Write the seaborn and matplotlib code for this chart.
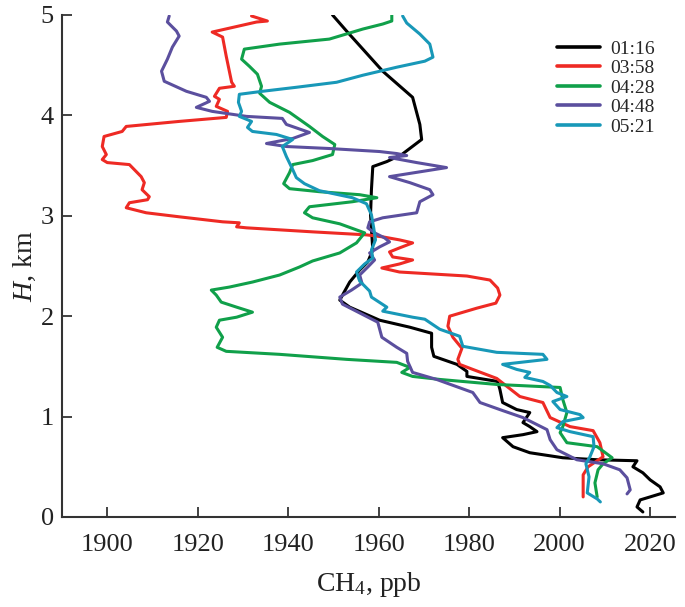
import pandas as pd
import matplotlib.pyplot as plt
import seaborn as sns

# CH4 profiles (ppb) vs height (km)
times = ["01:16", "03:58", "04:28", "04:48", "05:21"]
colors = ["#000000", "#ee2a24", "#10a04a", "#5b4f9e", "#1898b8"]

ch4_0116 = [1949.8, 1952.9, 1956.5, 1960.9, 1967.5, 1969.1, 1969.5, 1965.1, 1961.8, 1958.7,
            1958.4, 1958.2, 1958.7, 1957.6, 1955.8, 1953.6, 1952.0, 1951.4, 1953.6, 1960.2,
            1966.9, 1971.7, 1971.7, 1972.2, 1977.3, 1979.5, 1979.5, 1986.3, 1986.8, 1987.4,
            1990.5, 1993.4, 1991.9, 1993.4, 1995.0, 1991.9, 1987.4, 1989.7, 1993.4, 2000.7,
            2008.3, 2017.1, 2016.2, 2018.4, 2020.0, 2022.2, 2022.9, 2020.0, 2017.8, 2017.1, 2018.4]
h_0116 = [5.00, 4.84, 4.66, 4.44, 4.18, 3.91, 3.76, 3.61, 3.54, 3.49,
          3.26, 3.01, 2.66, 2.54, 2.46, 2.34, 2.21, 2.16, 2.09, 1.96,
          1.89, 1.83, 1.69, 1.60, 1.52, 1.45, 1.40, 1.35, 1.27, 1.14,
          1.07, 1.04, 0.94, 0.90, 0.85, 0.82, 0.79, 0.70, 0.64, 0.59,
          0.57, 0.56, 0.50, 0.44, 0.37, 0.30, 0.24, 0.20, 0.17, 0.10, 0.05]

ch4_0358 = [1931.9, 1935.4, 1933.0, 1923.2, 1925.5, 1926.3, 1927.5, 1928.1, 1924.8, 1923.7,
            1924.8, 1924.1, 1926.6, 1926.3, 1915.9, 1904.2, 1903.3, 1899.3, 1898.9, 1899.8,
            1898.9, 1900.0, 1904.9, 1907.5, 1908.2, 1907.7, 1909.3, 1908.9, 1904.9, 1904.2,
            1908.6, 1915.9, 1925.5, 1929.2, 1928.6, 1930.8, 1945.4, 1957.3, 1960.9, 1964.6,
            1967.5, 1964.6, 1962.4, 1963.1, 1967.5, 1964.6, 1960.7, 1964.6, 1979.5, 1984.6,
            1986.3, 1986.8, 1985.9, 1981.7, 1975.7, 1975.3, 1976.4, 1978.4, 1977.5, 1977.9,
            1980.8, 1986.1, 1991.2, 1996.3, 1997.9, 2002.3, 2007.4, 2008.9, 2009.6, 2006.3,
            2005.2, 2005.2]
h_0358 = [4.99, 4.94, 4.93, 4.83, 4.78, 4.59, 4.33, 4.29, 4.27, 4.19,
          4.16, 4.09, 4.04, 3.98, 3.94, 3.89, 3.84, 3.79, 3.69, 3.61,
          3.56, 3.53, 3.51, 3.39, 3.33, 3.26, 3.19, 3.16, 3.13, 3.08,
          3.03, 2.99, 2.94, 2.93, 2.89, 2.88, 2.84, 2.81, 2.79, 2.76,
          2.73, 2.68, 2.64, 2.59, 2.56, 2.52, 2.48, 2.44, 2.40, 2.36,
          2.28, 2.21, 2.13, 2.08, 2.00, 1.90, 1.79, 1.68, 1.57, 1.52,
          1.47, 1.38, 1.20, 1.14, 0.99, 0.90, 0.86, 0.74, 0.60, 0.50,
          0.42, 0.20]

ch4_0428 = [1962.9, 1962.9, 1960.9, 1956.5, 1949.1, 1938.1, 1930.3, 1929.7, 1931.4, 1933.2,
            1934.1, 1933.7, 1935.9, 1940.3, 1944.7, 1947.6, 1950.3, 1949.8, 1945.4, 1941.0,
            1940.3, 1939.0, 1940.3, 1946.9, 1955.8, 1959.6, 1954.2, 1944.7, 1943.6, 1945.4,
            1951.4, 1956.9, 1955.1, 1951.4, 1945.4, 1942.5, 1938.1, 1932.1, 1927.0, 1923.0,
            1924.1, 1925.2, 1928.6, 1932.1, 1928.6, 1924.8, 1924.1, 1925.5, 1924.3, 1926.3,
            1938.1, 1952.9, 1964.0, 1966.9, 1965.1, 1967.5, 1973.5, 1986.1, 2000.1, 2000.7,
            2001.6, 2000.7, 2000.1, 2001.6, 2008.3, 2011.6, 2009.6, 2008.5, 2007.8, 2008.3]
h_0428 = [5.00, 4.94, 4.91, 4.86, 4.76, 4.71, 4.66, 4.56, 4.49, 4.41,
          4.29, 4.22, 4.13, 4.03, 3.89, 3.79, 3.71, 3.61, 3.55, 3.51,
          3.43, 3.32, 3.27, 3.24, 3.21, 3.18, 3.14, 3.09, 3.03, 2.98,
          2.92, 2.83, 2.73, 2.63, 2.55, 2.49, 2.41, 2.34, 2.29, 2.26,
          2.21, 2.14, 2.09, 2.04, 1.99, 1.96, 1.89, 1.79, 1.69, 1.65,
          1.62, 1.57, 1.54, 1.49, 1.44, 1.40, 1.37, 1.32, 1.29, 1.17,
          1.04, 0.90, 0.84, 0.74, 0.70, 0.59, 0.53, 0.47, 0.34, 0.20]

ch4_0448 = [1913.7, 1913.3, 1915.3, 1915.9, 1914.4, 1913.3, 1912.0, 1912.6, 1917.5, 1921.9,
            1922.6, 1919.7, 1923.2, 1930.8, 1938.7, 1939.6, 1944.7, 1941.0, 1935.2, 1939.6,
            1949.1, 1960.2, 1964.0, 1966.2, 1962.4, 1968.4, 1975.0, 1962.4, 1966.9, 1971.3,
            1972.0, 1969.1, 1968.4, 1960.9, 1958.0, 1957.6, 1959.1, 1961.3, 1962.4, 1960.2,
            1958.0, 1959.1, 1957.6, 1955.8, 1956.3, 1954.0, 1951.4, 1952.0, 1959.8, 1960.7,
            1964.0, 1966.2, 1966.4, 1967.5, 1972.8, 1980.8, 1982.4, 1987.4, 1991.9, 1997.2,
            1997.9, 1999.4, 2003.8, 2009.6, 2013.3, 2014.9, 2015.6, 2014.9]
h_0448 = [4.99, 4.93, 4.84, 4.79, 4.68, 4.56, 4.44, 4.34, 4.24, 4.18,
          4.14, 4.08, 4.04, 3.99, 3.97, 3.91, 3.83, 3.77, 3.72, 3.69,
          3.67, 3.64, 3.62, 3.60, 3.58, 3.53, 3.48, 3.39, 3.33, 3.26,
          3.21, 3.14, 3.03, 2.98, 2.94, 2.88, 2.83, 2.78, 2.74, 2.69,
          2.63, 2.56, 2.49, 2.41, 2.33, 2.26, 2.19, 2.12, 1.94, 1.79,
          1.69, 1.63, 1.55, 1.44, 1.37, 1.24, 1.14, 1.06, 0.99, 0.87,
          0.77, 0.67, 0.57, 0.53, 0.47, 0.39, 0.27, 0.23]

ch4_0521 = [1965.3, 1966.2, 1969.1, 1971.3, 1972.0, 1970.2, 1964.0, 1956.5, 1950.7, 1941.8,
            1934.3, 1929.2, 1929.0, 1929.7, 1929.2, 1931.9, 1931.0, 1932.1, 1937.4, 1941.0,
            1938.7, 1939.6, 1941.0, 1941.8, 1943.6, 1946.9, 1954.2, 1957.3, 1958.4, 1958.9,
            1959.3, 1958.4, 1958.7, 1956.9, 1955.1, 1955.8, 1958.0, 1958.4, 1961.8, 1960.9,
            1967.5, 1970.2, 1973.5, 1977.9, 1978.6, 1986.1, 1996.3, 1997.2, 1987.4, 1990.5,
            1993.4, 1992.3, 1996.3, 1997.9, 1999.4, 2001.6, 1998.5, 2000.1, 2004.5, 2005.2,
            2000.7, 1999.4, 2002.3, 2007.4, 2007.6, 2006.7, 2005.8, 2006.5, 2006.1, 2008.3, 2009.0]
h_0521 = [4.99, 4.92, 4.81, 4.71, 4.58, 4.54, 4.48, 4.40, 4.33, 4.28,
          4.24, 4.21, 4.13, 4.04, 3.99, 3.94, 3.88, 3.84, 3.81, 3.76,
          3.69, 3.59, 3.46, 3.38, 3.32, 3.25, 3.18, 3.12, 3.01, 2.88,
          2.76, 2.66, 2.58, 2.52, 2.44, 2.35, 2.25, 2.19, 2.09, 2.05,
          1.99, 1.97, 1.87, 1.80, 1.70, 1.64, 1.62, 1.57, 1.52, 1.47,
          1.44, 1.39, 1.35, 1.31, 1.24, 1.20, 1.15, 1.07, 1.02, 0.99,
          0.95, 0.89, 0.85, 0.80, 0.70, 0.60, 0.53, 0.40, 0.24, 0.18, 0.15]

x_ticks = [1900, 1920, 1940, 1960, 1980, 2000, 2020]
y_ticks = [0, 1, 2, 3, 4, 5]

profiles = [ch4_0116, ch4_0358, ch4_0428, ch4_0448, ch4_0521]
heights = [h_0116, h_0358, h_0428, h_0448, h_0521]

frames = []
for t, c, h in zip(times, profiles, heights):
    frames.append(pd.DataFrame({"ch4": c, "h": h, "time": t}))
df = pd.concat(frames, ignore_index=True)

sns.set_style("ticks")
plt.rcParams["font.family"] = ["Liberation Serif", "DejaVu Serif"]
plt.rcParams["mathtext.fontset"] = "custom"
plt.rcParams["mathtext.rm"] = "Liberation Serif"
plt.rcParams["mathtext.it"] = "Liberation Serif:italic"

fig = plt.figure(figsize=(6.85, 6.07), dpi=100)
ax = fig.add_axes([0.0905, 0.1483, 0.8949, 0.827])

sns.lineplot(data=df, x="ch4", y="h", hue="time", hue_order=times,
             palette=colors, sort=False, estimator=None, lw=2.2, ax=ax)

ax.set_xlim(1890, 2025.5)
ax.set_ylim(0, 5)
ax.set_xticks(x_ticks)
ax.set_yticks(y_ticks)
ax.tick_params(direction="in", length=7, width=1.2, labelsize=19, colors="#222222")
ax.tick_params(axis="x", pad=12)
ax.tick_params(axis="y", pad=6)
for s in ["top", "right"]:
    ax.spines[s].set_visible(False)
for s in ["left", "bottom"]:
    ax.spines[s].set_linewidth(1.5)
    ax.spines[s].set_color("#333333")

ax.set_xlabel("CH$_4$, ppb", fontsize=20, color="#222222", labelpad=10)
ax.set_ylabel("$\\mathit{H}$, km", fontsize=20, color="#222222", labelpad=2)

sns.move_legend(ax, "upper right", bbox_to_anchor=(0.995, 0.985), title=None,
                frameon=False, fontsize=14, handlelength=2.2, labelspacing=0.1,
                handletextpad=0.5)
for line in ax.get_legend().get_lines():
    line.set_linewidth(2.6)

fig.savefig("out.png", dpi=100)
